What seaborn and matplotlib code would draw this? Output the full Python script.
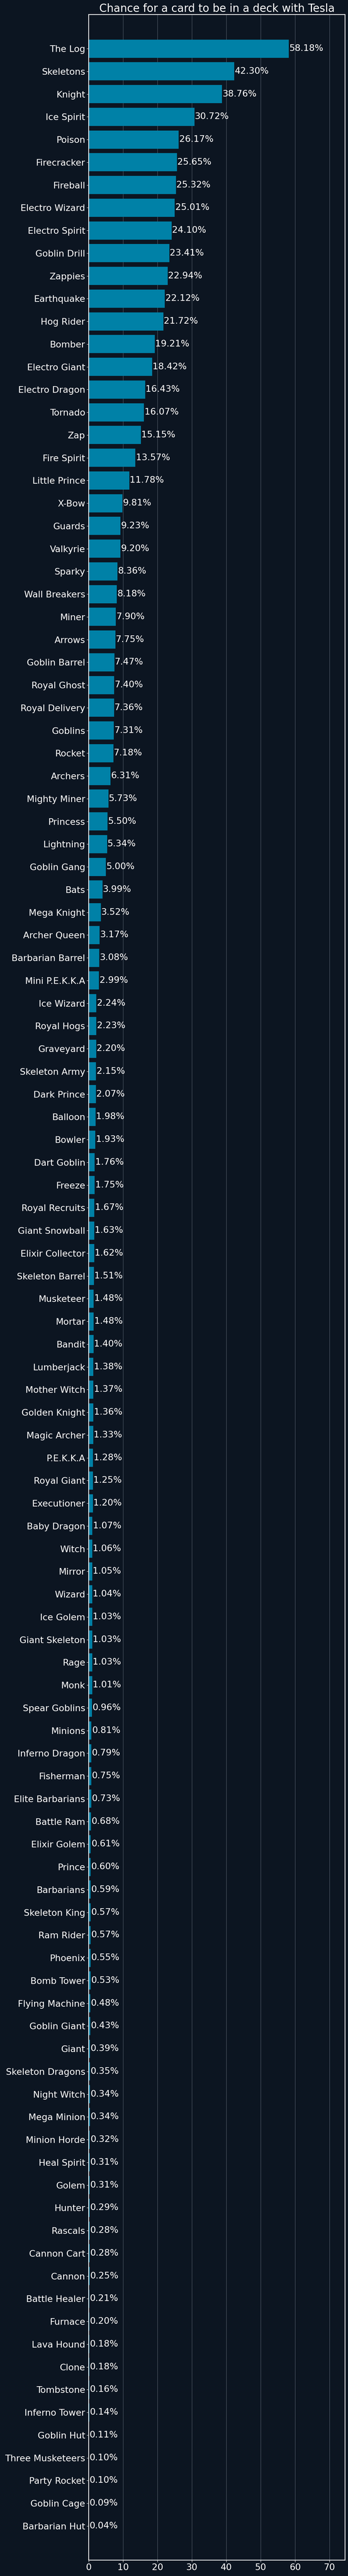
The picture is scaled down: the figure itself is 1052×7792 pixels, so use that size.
import pandas as pd
import matplotlib
matplotlib.use("Agg")
import matplotlib.pyplot as plt
import seaborn as sns

# card names, most common first
cards = [
    "The Log", "Skeletons", "Knight", "Ice Spirit", "Poison", "Firecracker",
    "Fireball", "Electro Wizard", "Electro Spirit", "Goblin Drill", "Zappies",
    "Earthquake", "Hog Rider", "Bomber", "Electro Giant", "Electro Dragon",
    "Tornado", "Zap", "Fire Spirit", "Little Prince", "X-Bow", "Guards",
    "Valkyrie", "Sparky", "Wall Breakers", "Miner", "Arrows", "Goblin Barrel",
    "Royal Ghost", "Royal Delivery", "Goblins", "Rocket", "Archers",
    "Mighty Miner", "Princess", "Lightning", "Goblin Gang", "Bats",
    "Mega Knight", "Archer Queen", "Barbarian Barrel", "Mini P.E.K.K.A",
    "Ice Wizard", "Royal Hogs", "Graveyard", "Skeleton Army", "Dark Prince",
    "Balloon", "Bowler", "Dart Goblin", "Freeze", "Royal Recruits",
    "Giant Snowball", "Elixir Collector", "Skeleton Barrel", "Musketeer",
    "Mortar", "Bandit", "Lumberjack", "Mother Witch", "Golden Knight",
    "Magic Archer", "P.E.K.K.A", "Royal Giant", "Executioner", "Baby Dragon",
    "Witch", "Mirror", "Wizard", "Ice Golem", "Giant Skeleton", "Rage", "Monk",
    "Spear Goblins", "Minions", "Inferno Dragon", "Fisherman",
    "Elite Barbarians", "Battle Ram", "Elixir Golem", "Prince", "Barbarians",
    "Skeleton King", "Ram Rider", "Phoenix", "Bomb Tower", "Flying Machine",
    "Goblin Giant", "Giant", "Skeleton Dragons", "Night Witch", "Mega Minion",
    "Minion Horde", "Heal Spirit", "Golem", "Hunter", "Rascals", "Cannon Cart",
    "Cannon", "Battle Healer", "Furnace", "Lava Hound", "Clone", "Tombstone",
    "Inferno Tower", "Goblin Hut", "Three Musketeers", "Party Rocket",
    "Goblin Cage", "Barbarian Hut",
]

# percent of Tesla decks that also contain the card
chance = [
    58.18, 42.30, 38.76, 30.72, 26.17, 25.65, 25.32, 25.01, 24.10, 23.41,
    22.94, 22.12, 21.72, 19.21, 18.42, 16.43, 16.07, 15.15, 13.57, 11.78,
    9.81, 9.23, 9.20, 8.36, 8.18, 7.90, 7.75, 7.47, 7.40, 7.36,
    7.31, 7.18, 6.31, 5.73, 5.50, 5.34, 5.00, 3.99, 3.52, 3.17,
    3.08, 2.99, 2.24, 2.23, 2.20, 2.15, 2.07, 1.98, 1.93, 1.76,
    1.75, 1.67, 1.63, 1.62, 1.51, 1.48, 1.48, 1.40, 1.38, 1.37,
    1.36, 1.33, 1.28, 1.25, 1.20, 1.07, 1.06, 1.05, 1.04, 1.03,
    1.03, 1.03, 1.01, 0.96, 0.81, 0.79, 0.75, 0.73, 0.68, 0.61,
    0.60, 0.59, 0.57, 0.57, 0.55, 0.53, 0.48, 0.43, 0.39, 0.35,
    0.34, 0.34, 0.32, 0.31, 0.31, 0.29, 0.28, 0.28, 0.25, 0.21,
    0.20, 0.18, 0.18, 0.16, 0.14, 0.11, 0.10, 0.10, 0.09, 0.04,
]

df = pd.DataFrame({"card": cards, "chance": chance})

bg = "#0c1521"
bar_color = "#0081a7"

sns.set_style("dark")
plt.rcParams["font.family"] = ["DejaVu Sans"]
plt.rcParams.update({
    "figure.facecolor": bg,
    "axes.facecolor": bg,
    "axes.edgecolor": "white",
    "text.color": "white",
    "xtick.color": "white",
    "ytick.color": "white",
})

fig, ax = plt.subplots(figsize=(10.52, 77.92), dpi=100)
fig.subplots_adjust(left=0.2548, right=0.9914, top=0.99435, bottom=0.00616)

sns.barplot(data=df, x="chance", y="card", orient="h", color=bar_color,
            saturation=1, width=0.8, linewidth=0, edgecolor=bar_color, ax=ax)

ax.bar_label(ax.containers[0], fmt="%.2f%%", padding=1, fontsize=19.5,
             color="white")

ax.set_xlim(0, max(chance) * 1.28)
ax.set_ylim(len(cards) + 0.5, -1.5)
ax.set_title("Chance for a card to be in a deck with Tesla", fontsize=23.5,
             color="white", pad=6)
ax.set_xlabel("")
ax.set_ylabel("")
ax.tick_params(axis="both", labelsize=19.5, colors="white", left=True,
               bottom=True, length=4)
ax.grid(axis="x", color="#5c6673", linewidth=0.8)
ax.grid(axis="y", visible=False)
ax.set_axisbelow(True)
for s in ax.spines.values():
    s.set_color("white")
    s.set_linewidth(1.6)

fig.savefig("out.png", dpi=100, facecolor=bg)
